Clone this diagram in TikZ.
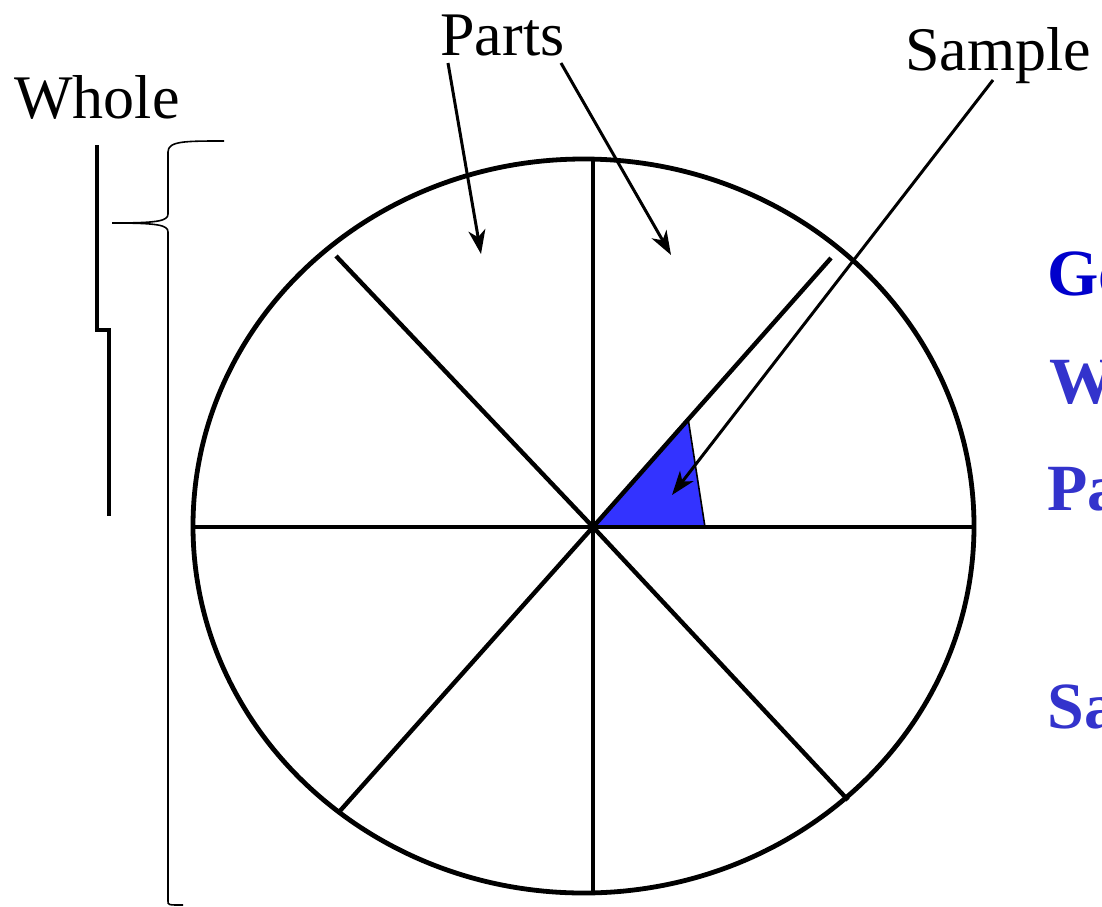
\documentclass[tikz,border=0pt]{standalone}
\usepackage{fontspec}
\setmainfont{Liberation Serif}
\usetikzlibrary{arrows.meta}
\definecolor{wedgeblue}{RGB}{51,51,255}
\definecolor{goblue}{RGB}{0,0,204}
\definecolor{txtblue}{RGB}{51,51,204}
\begin{document}
\begin{tikzpicture}[x=0.5pt,y=-0.5pt,
  rim/.style={line width=2.4pt},
  spoke/.style={line width=2.2pt},
  pointer/.style={line width=1.5pt,-{Stealth[length=12pt,width=8.5pt,inset=3.5pt]}},
  label/.style={font=\fontsize{31}{36}\selectfont,anchor=base west,inner sep=0pt},
  side/.style={font=\fontsize{33}{40}\selectfont\bfseries,anchor=base west,inner sep=0pt,text=txtblue},
  thickbar/.style={line width=1.8pt},
  thinbrace/.style={line width=0.8pt}]
\useasboundingbox (0,0) rectangle (1102,906);
% centre and wedge
\coordinate (c) at (593,527);
\coordinate (w1) at (688,418);
\coordinate (w2) at (705,527);
\fill[wedgeblue,draw=black,line width=0.8pt] (c) -- (w1) -- (w2) -- cycle;
% spokes
\coordinate (top) at (593,160);
\coordinate (bot) at (593,893);
\coordinate (lft) at (193,527);
\coordinate (rgt) at (974,527);
\coordinate (ul) at (336,256);
\coordinate (ur) at (831,258);
\coordinate (ll) at (339,812);
\coordinate (lr) at (848,800);
\foreach \e in {top,bot,lft,rgt,ul,ur,ll,lr} \draw[spoke] (c) -- (\e);
% rim
\draw[rim] (583.5,526) ellipse [x radius=390.5, y radius=367];
% labels
\node[label] (parts) at (440,55) {Parts};
\node[label] (sample) at (905,70) {Sample};
\node[label] (whole) at (14,118) {Whole};
% arrows
\coordinate (pa1) at (448,63);
\coordinate (pa2) at (561,63);
\coordinate (pt1) at (481,254);
\coordinate (pt2) at (671,255);
\coordinate (sa) at (993,80);
\coordinate (st) at (672,495);
\draw[pointer] (pa1) -- (pt1);
\draw[pointer] (pa2) -- (pt2);
\draw[pointer] (sa) -- (st);
% thick step bar
\draw[thickbar] (97,145) -- (97,330) -- (109,330) -- (109,516);
% thin brace
\draw[thinbrace] (224,141) .. controls (185,141) and (168,141) .. (168,152)
  -- (168,214) .. controls (168,221) and (158,223) .. (112,223);
\draw[thinbrace] (112,223) .. controls (158,223) and (168,225) .. (168,232)
  -- (168,901) .. controls (168,905) .. (183,905);
% side texts (cut at right edge)
\node[side,text=goblue] (go) at (1047,295) {Go};
\node[side] (wh) at (1049,403) {W};
\node[side] (pa) at (1047,510) {Pa};
\node[side] (sa2) at (1047,728) {Sa};
\end{tikzpicture}
\end{document}
